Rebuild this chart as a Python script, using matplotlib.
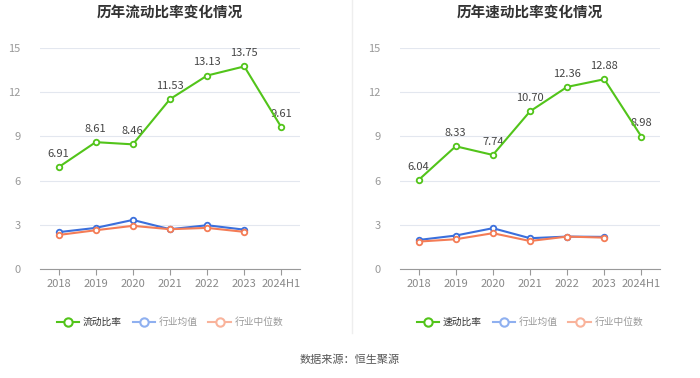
import numpy as np
import matplotlib
matplotlib.use('Agg')
import matplotlib.pyplot as plt
from matplotlib.lines import Line2D

plt.rcParams['font.family'] = ['Noto Sans CJK SC', 'DejaVu Sans']

years = ['2018', '2019', '2020', '2021', '2022', '2023', '2024H1']

# 流动比率
current_ratio = [6.91, 8.61, 8.46, 11.53, 13.13, 13.75, 9.61]
current_avg = [2.50, 2.79, 3.33, 2.70, 2.97, 2.67]
current_med = [2.31, 2.63, 2.93, 2.70, 2.79, 2.52]

# 速动比率
quick_ratio = [6.04, 8.33, 7.74, 10.70, 12.36, 12.88, 8.98]
quick_avg = [1.97, 2.27, 2.77, 2.09, 2.20, 2.18]
quick_med = [1.86, 2.02, 2.43, 1.90, 2.20, 2.13]

green = '#52c41a'
blue = '#3b6fdc'
orange = '#f47c56'

fig = plt.figure(figsize=(7, 3.78), dpi=100)


def draw(left, title, main, avg, med, name):
    ax = fig.add_axes([left / 700, 1 - 269 / 378, 260 / 700, (269 - 48) / 378])
    x = np.arange(len(years))
    ax.plot(x, main, '-o', color=green, lw=1.5, ms=4, mfc='white', mew=1.3, zorder=4)
    ax.plot(x[:len(avg)], avg, '-o', color=blue, lw=1.5, ms=4, mfc='white', mew=1.3, zorder=3)
    ax.plot(x[:len(med)], med, '-o', color=orange, lw=1.5, ms=4, mfc='white', mew=1.3, zorder=3)
    for xi, v in zip(x, main):
        ax.annotate('%.2f' % v, (xi, v), xytext=(0, 6), textcoords='offset points',
                    ha='center', va='bottom', fontsize=8, color='#444444')
    ax.set_xlim(-0.5, len(years) - 0.5)
    ax.set_ylim(0, 15)
    ax.set_yticks([0, 3, 6, 9, 12, 15])
    ax.set_xticks(x)
    ax.set_xticklabels(years)
    ax.grid(axis='y', color='#e3e7ef', lw=0.8)
    ax.set_axisbelow(True)
    for s in ['top', 'right', 'left']:
        ax.spines[s].set_visible(False)
    ax.spines['bottom'].set_color('#999999')
    ax.tick_params(axis='y', length=0, labelsize=8, labelcolor='#999999', pad=14)
    ax.tick_params(axis='x', length=4, color='#999999', labelsize=8, labelcolor='#888888')
    fig.text((left + 130) / 700, 1 - 12 / 378, title, ha='center', va='center',
             fontsize=10.5, fontweight='bold', color='#333333')
    handles = [
        Line2D([], [], color=green, lw=1.5, marker='o', ms=6, mfc='white', mew=1.5),
        Line2D([], [], color='#8fb0f0', lw=1.5, marker='o', ms=6, mfc='white', mew=1.5),
        Line2D([], [], color='#f9b39b', lw=1.5, marker='o', ms=6, mfc='white', mew=1.5),
    ]
    leg = fig.legend(handles, [name, '行业均值', '行业中位数'], loc='center',
                     bbox_to_anchor=((left + 130) / 700, 1 - 322 / 378), ncol=3,
                     frameon=False, fontsize=7, handlelength=2.3, handletextpad=0.4,
                     columnspacing=1.1)
    for i, t in enumerate(leg.get_texts()):
        t.set_color('#333333' if i == 0 else '#999999')


draw(40, '历年流动比率变化情况', current_ratio, current_avg, current_med, '流动比率')
draw(400, '历年速动比率变化情况', quick_ratio, quick_avg, quick_med, '速动比率')

fig.add_artist(Line2D([352 / 700, 352 / 700], [1 - 333 / 378, 1], color='#eeeeee', lw=1))
fig.text(0.5, 1 - 360 / 378, '数据来源：恒生聚源', ha='center', va='center', fontsize=8, color='#555555')

fig.savefig('out.png', dpi=100)
